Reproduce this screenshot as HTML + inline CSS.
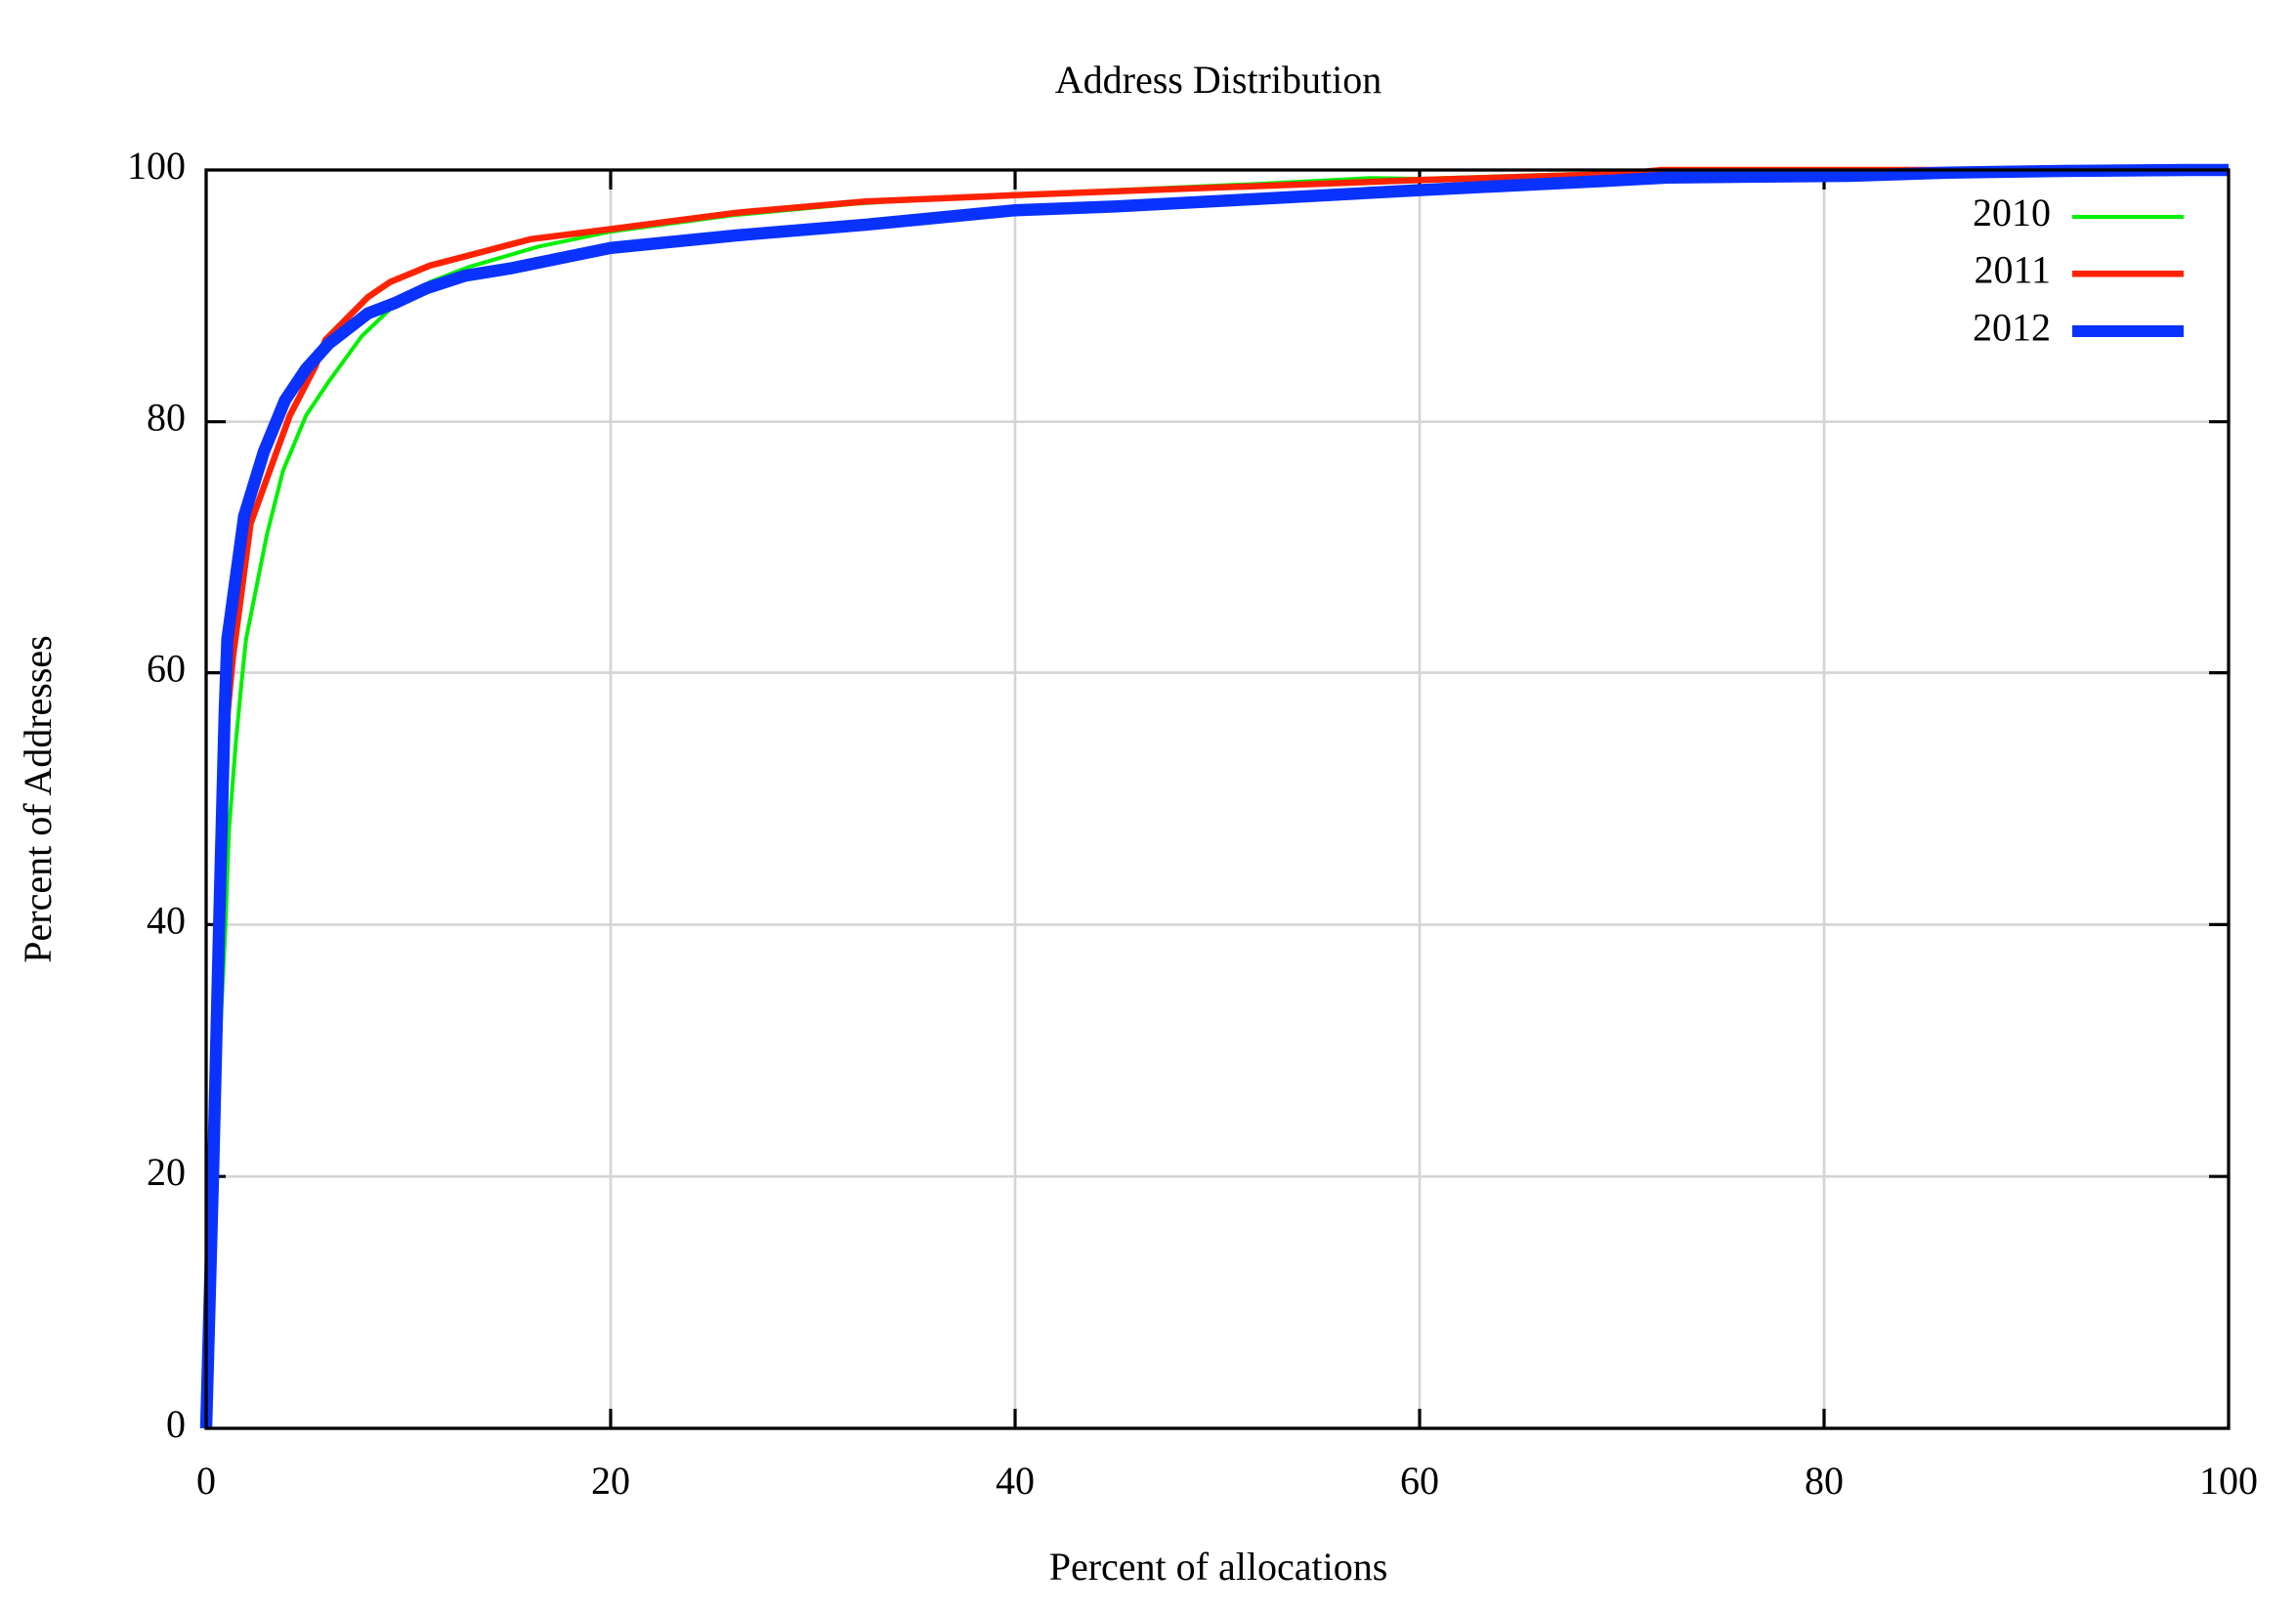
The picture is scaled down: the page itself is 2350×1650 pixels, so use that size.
<!DOCTYPE html>
<html>
<head>
<meta charset="utf-8">
<style>
html,body{margin:0;padding:0;background:#fff;}
svg{display:block;}
text{font-family:"Liberation Serif","Times New Roman",serif;fill:#000;}
</style>
</head>
<body>
<svg width="2350" height="1650" viewBox="0 0 2350 1650" xmlns="http://www.w3.org/2000/svg">
<rect x="0" y="0" width="2350" height="1650" fill="#fff"/>

<!-- grid -->
<g stroke="#d4d4d4" stroke-width="2.6" fill="none">
  <line x1="625" y1="174" x2="625" y2="1462"/>
  <line x1="1039" y1="174" x2="1039" y2="1462"/>
  <line x1="1453" y1="174" x2="1453" y2="1462"/>
  <line x1="1867" y1="174" x2="1867" y2="1462"/>
  <line x1="211" y1="1204.2" x2="2281" y2="1204.2"/>
  <line x1="211" y1="946.4" x2="2281" y2="946.4"/>
  <line x1="211" y1="688.6" x2="2281" y2="688.6"/>
  <line x1="211" y1="431.7" x2="2281" y2="431.7"/>
</g>

<!-- ticks -->
<g stroke="#000" stroke-width="3.2" fill="none">
  <line x1="211" y1="1204.2" x2="231" y2="1204.2"/>
  <line x1="211" y1="946.4" x2="231" y2="946.4"/>
  <line x1="211" y1="688.6" x2="231" y2="688.6"/>
  <line x1="211" y1="431.7" x2="231" y2="431.7"/>
  <line x1="2281" y1="1204.2" x2="2261" y2="1204.2"/>
  <line x1="2281" y1="946.4" x2="2261" y2="946.4"/>
  <line x1="2281" y1="688.6" x2="2261" y2="688.6"/>
  <line x1="2281" y1="431.7" x2="2261" y2="431.7"/>
  <line x1="625" y1="1462" x2="625" y2="1442"/>
  <line x1="1039" y1="1462" x2="1039" y2="1442"/>
  <line x1="1453" y1="1462" x2="1453" y2="1442"/>
  <line x1="1867" y1="1462" x2="1867" y2="1442"/>
  <line x1="625" y1="174" x2="625" y2="194"/>
  <line x1="1039" y1="174" x2="1039" y2="194"/>
  <line x1="1453" y1="174" x2="1453" y2="194"/>
  <line x1="1867" y1="174" x2="1867" y2="194"/>
</g>

<!-- series 2010 (green) -->
<polyline fill="none" stroke="#00f000" stroke-width="4" stroke-linejoin="miter"
 points="211,1462 221.4,1140 230.7,949.4 234.4,848.9 241.6,757.5 247,700.8 251.8,654.4 273.1,547.5 289.7,481.8 313.3,425.2 336.6,390.4 370.4,344 400,315.7 440,288.6 480.1,273.2 550.5,252.6 625,237.1 749.2,220.4 873.4,208.8 997.6,200.4 1080.4,197.2 1287.4,188.2 1401,182.3 1453,183 1660,176.6 1742.8,174 2281,174"/>

<!-- series 2011 (red) -->
<polyline fill="none" stroke="#ff2200" stroke-width="6.5" stroke-linejoin="miter"
 points="211,1462 217.2,1204.4 223.4,946.8 230.7,753.6 238.3,673.7 256.5,535.9 286.8,452.2 296.7,425.2 322.8,374.9 333.1,347.9 376.6,304.1 399.4,288.6 440,271.9 543.2,244.8 625,234.5 753.3,217.8 885.8,206.2 1039,199.8 1140.4,195.9 1453,184.3 1660,177.9 1701,174 2281,174"/>

<!-- series 2012 (blue) -->
<polyline fill="none" stroke="#0a32ff" stroke-width="12.5" stroke-linejoin="miter"
 points="211,1462 218.2,1198 224.2,949.4 230,727.8 232.7,654.4 249.9,528.2 270,462.5 291.7,409.7 313.3,377.5 336.6,351.7 376.6,320.8 403.5,310.5 436.6,295.1 476,282.2 523.6,274.5 625,253.8 753.3,241 885.8,230 1039,215.2 1140.4,211.4 1287.4,203.6 1453,194.6 1660,184.3 1707,181.7 1893,180 1993,176.7 2110,175 2240,174 2281,174"/>

<!-- frame -->
<rect x="211" y="174" width="2070" height="1288" fill="none" stroke="#000" stroke-width="3.3"/>

<!-- y tick labels -->
<g font-size="40" text-anchor="end">
  <text x="190" y="1471">0</text>
  <text x="190" y="1213">20</text>
  <text x="190" y="955.5">40</text>
  <text x="190" y="697.5">60</text>
  <text x="190" y="440.5">80</text>
  <text x="190" y="183">100</text>
</g>

<!-- x tick labels -->
<g font-size="40" text-anchor="middle">
  <text x="211" y="1529">0</text>
  <text x="625" y="1529">20</text>
  <text x="1039" y="1529">40</text>
  <text x="1453" y="1529">60</text>
  <text x="1867" y="1529">80</text>
  <text x="2281" y="1529">100</text>
</g>

<!-- title & axis labels -->
<text x="1247" y="95" font-size="40" text-anchor="middle">Address Distribution</text>
<text x="1247" y="1617" font-size="40" text-anchor="middle">Percent of allocations</text>
<text x="52" y="818" font-size="40" text-anchor="middle" transform="rotate(-90 52 818)">Percent of Addresses</text>

<!-- legend -->
<g font-size="40" text-anchor="end">
  <text x="2099" y="231">2010</text>
  <text x="2099" y="289.5">2011</text>
  <text x="2099" y="348.5">2012</text>
</g>
<line x1="2121" y1="222" x2="2235" y2="222" stroke="#00f000" stroke-width="4"/>
<line x1="2121" y1="280.3" x2="2235" y2="280.3" stroke="#ff2200" stroke-width="6.5"/>
<line x1="2121" y1="339" x2="2235" y2="339" stroke="#0a32ff" stroke-width="12"/>
</svg>
</body>
</html>
